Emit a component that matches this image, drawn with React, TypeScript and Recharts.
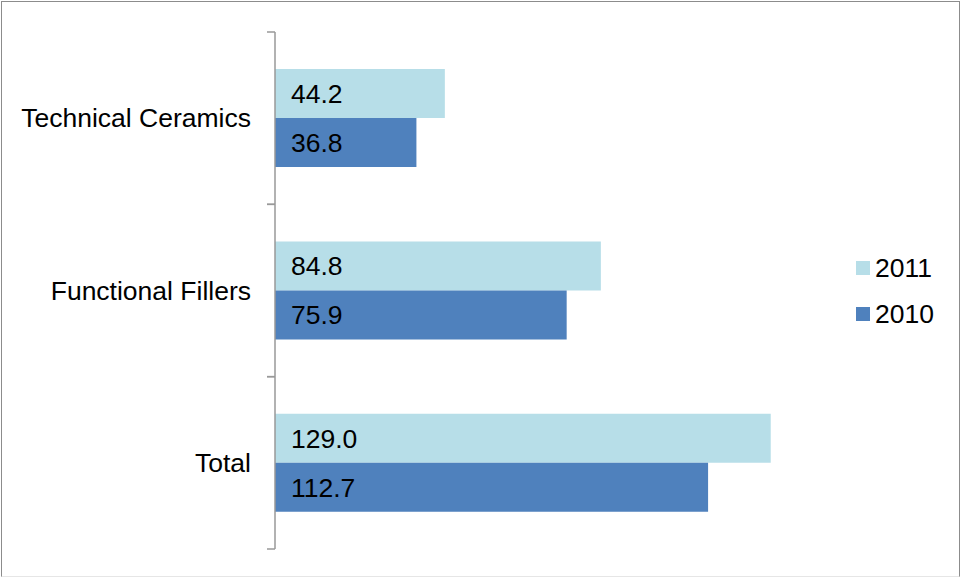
import { BarChart, Bar, XAxis, YAxis, Legend, LabelList } from 'recharts'

const categories = ['Technical Ceramics', 'Functional Fillers', 'Total']
const values2011 = [44.2, 84.8, 129.0]
const values2010 = [36.8, 75.9, 112.7]
const seriesNames = ['2011', '2010']

const data = categories.map((name, i) => ({
  name,
  y2011: values2011[i],
  y2010: values2010[i],
}))

const FONT = '"Liberation Sans", Arial, sans-serif'
const FONT_SIZE = 26.5
const TICK_SIZE = 8
const TICK_MARGIN = 16

// category label plus the small ticks at the band edges
const CategoryTick = ({ x, y, payload }: any) => {
  const half = payload.offset || 0
  const x1 = x + TICK_MARGIN
  const x2 = x1 + TICK_SIZE
  return (
    <g>
      <line x1={x1} x2={x2} y1={y - half} y2={y - half} stroke="#999" strokeWidth={1.5} />
      <line x1={x1} x2={x2} y1={y + half} y2={y + half} stroke="#999" strokeWidth={1.5} />
      <text x={x} y={y} textAnchor="end" dominantBaseline="central" fontSize={FONT_SIZE} fill="#000" fontFamily={FONT}>
        {payload.value}
      </text>
    </g>
  )
}

// keep legend in series order (2011 first)
const LegendBox = ({ payload }: any) => {
  const items = [...(payload || [])].sort(
    (a: any, b: any) => seriesNames.indexOf(a.value) - seriesNames.indexOf(b.value)
  )
  return (
    <div style={{ fontFamily: FONT, fontSize: FONT_SIZE, color: '#000' }}>
      {items.map((p: any) => (
        <div key={p.value} style={{ display: 'flex', alignItems: 'center', height: 46 }}>
          <span style={{ width: 14, height: 14, background: p.color, marginRight: 5, display: 'inline-block' }} />
          <span>{p.value}</span>
        </div>
      ))}
    </div>
  )
}

export default function App() {
  return (
    <div style={{ position: 'absolute', left: 0, top: 0, width: 961, height: 578, background: '#fff' }}>
      <div
        style={{
          position: 'absolute',
          left: 1,
          top: 1,
          width: 957,
          height: 574,
          border: '1.5px solid #8c8c8c',
          borderBottomColor: '#e6e6e6',
        }}
      />
      <BarChart
        width={961}
        height={578}
        data={data}
        layout="vertical"
        margin={{ top: 32, right: 148, bottom: 29, left: 0 }}
        barCategoryGap="21.5%"
        barGap={0}
      >
        <XAxis type="number" domain={[0, 140]} hide />
        <YAxis
          type="category"
          dataKey="name"
          width={275}
          axisLine={{ stroke: '#999', strokeWidth: 1.5 }}
          tickLine={false}
          tickSize={TICK_SIZE}
          tickMargin={TICK_MARGIN}
          tick={<CategoryTick />}
          interval={0}
        />
        <Legend
          layout="horizontal"
          align="center"
          verticalAlign="middle"
          content={<LegendBox />}
          wrapperStyle={{ left: 856, top: 245, width: 100 }}
        />
        <Bar dataKey="y2011" name={seriesNames[0]} fill="#B7DEE8" isAnimationActive={false}>
          <LabelList
            dataKey="y2011"
            position="insideLeft"
            offset={16}
            fill="#000"
            fontSize={FONT_SIZE}
            fontFamily={FONT}
            formatter={(v: any) => Number(v).toFixed(1)}
          />
        </Bar>
        <Bar dataKey="y2010" name={seriesNames[1]} fill="#4F81BD" isAnimationActive={false}>
          <LabelList
            dataKey="y2010"
            position="insideLeft"
            offset={16}
            fill="#000"
            fontSize={FONT_SIZE}
            fontFamily={FONT}
            formatter={(v: any) => Number(v).toFixed(1)}
          />
        </Bar>
      </BarChart>
    </div>
  )
}
